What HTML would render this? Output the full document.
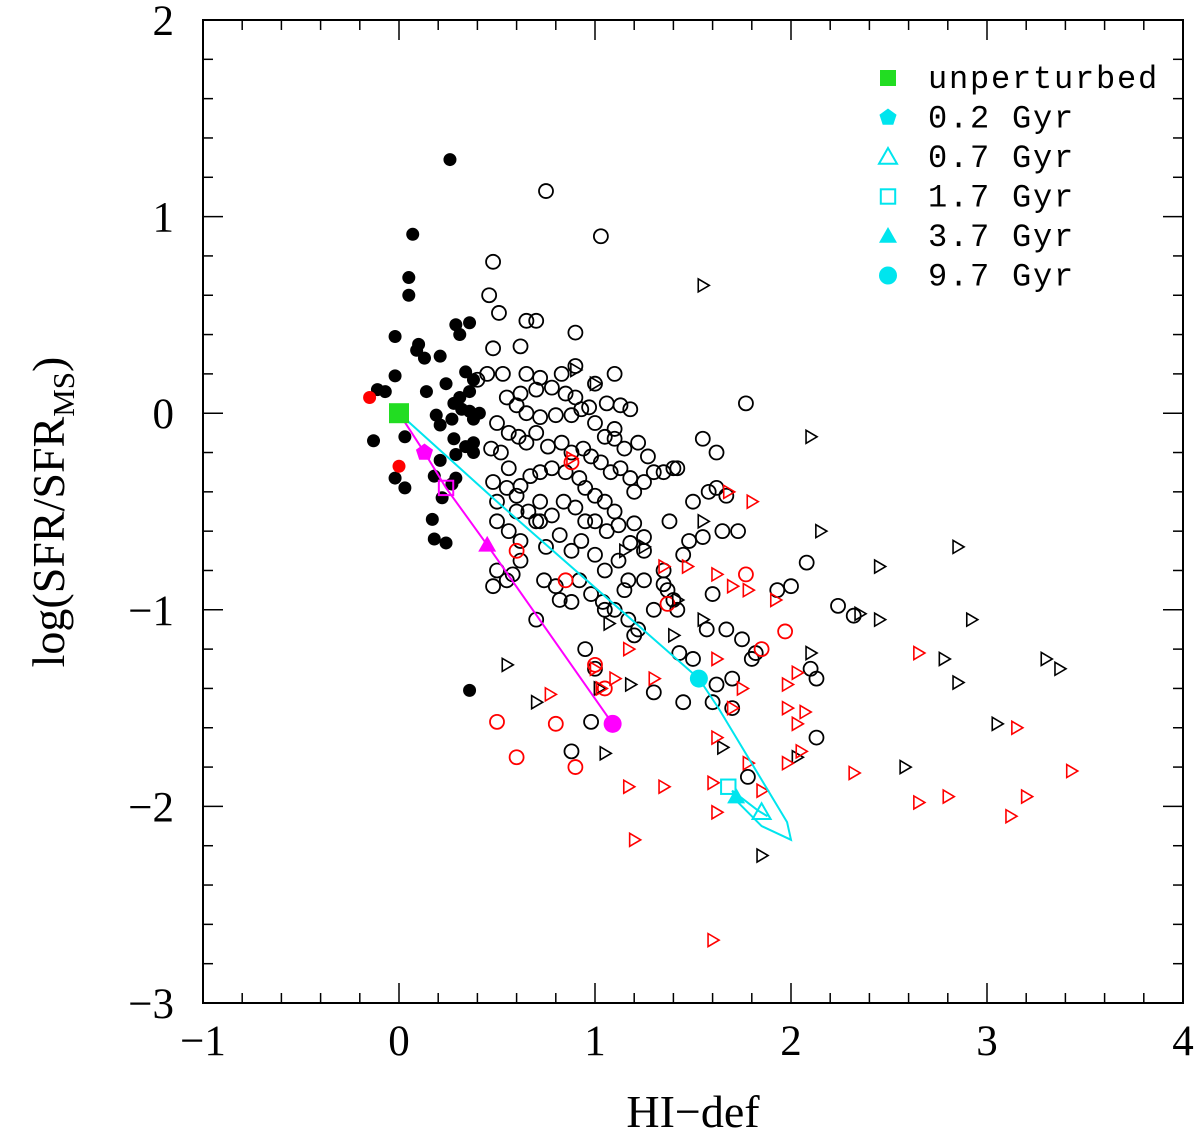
<!DOCTYPE html>
<html><head><meta charset="utf-8"><style>
html,body{margin:0;padding:0;background:#fff}
svg{display:block}
text{font-family:"Liberation Serif",serif;fill:#000}
.leg{font-family:"Liberation Mono",monospace;font-size:32px;letter-spacing:1.8px}
</style></head><body>
<svg id="chart" width="1200" height="1136" viewBox="0 0 1200 1136" xmlns="http://www.w3.org/2000/svg">
<g id="axes"></g>
<g id="marks"></g>
<g id="legend"></g>
<text x="693" y="1127" font-size="46" text-anchor="middle">HI−def</text>
<text transform="translate(64,512) rotate(-90)" font-size="46" text-anchor="middle">log(SFR/SFR<tspan font-size="31" dy="10">MS</tspan><tspan dy="-10">)</tspan></text>
</svg>
<script>
const xTicks=[-1,0,1,2,3,4];
const yTicks=[2,1,0,-1,-2,-3];
const filledBlackX=[0.26,0.07,0.05,0.05,-0.02,0.10,0.09,0.29,0.36,0.31,-0.11,-0.07,-0.02,0.13,0.21,0.24,0.34,0.38,0.31,0.36,0.28,0.32,0.36,0.19,0.21,0.14,0.27,0.38,0.41,0.28,0.34,0.38,0.29,0.21,-0.13,0.03,-0.02,0.18,0.29,0.03,0.17,0.22,0.18,0.24,0.36,0.27,0.38];
const filledBlackY=[1.29,0.91,0.69,0.60,0.39,0.35,0.32,0.45,0.46,0.40,0.12,0.11,0.19,0.28,0.29,0.15,0.21,0.17,0.08,0.11,0.05,0.02,0.01,-0.01,-0.06,0.11,-0.03,-0.03,0,-0.13,-0.17,-0.15,-0.21,-0.24,-0.14,-0.12,-0.33,-0.32,-0.33,-0.38,-0.54,-0.43,-0.64,-0.66,-1.41,-0.36,-0.2];
const filledRedX=[-0.15,0];
const filledRedY=[0.08,-0.27];
const openBlack=[[0.75,1.13],[1.03,0.9],[0.48,0.77],[0.46,0.6],[0.51,0.51],[0.65,0.47],[0.7,0.47],[0.48,0.33],[0.62,0.34],[0.9,0.41],[0.45,0.2],[0.53,0.2],[0.4,0.17],[0.65,0.2],[0.72,0.18],[0.83,0.2],[0.9,0.24],[1.0,0.15],[1.1,0.2],[1.13,0.04],[1.18,0.02],[1.1,-0.08],[1.06,0.05],[0.9,0.08],[0.85,0.1],[0.78,0.13],[0.7,0.12],[0.62,0.1],[0.55,0.08],[0.6,0.04],[0.65,0.0],[0.72,-0.02],[0.8,-0.01],[0.88,-0.01],[0.93,0.02],[0.97,0.03],[1.0,-0.05],[1.05,-0.12],[1.1,-0.13],[1.15,-0.18],[1.22,-0.15],[1.27,-0.22],[0.5,-0.05],[0.56,-0.1],[0.61,-0.12],[0.65,-0.15],[0.7,-0.1],[0.76,-0.17],[0.83,-0.15],[0.88,-0.2],[0.94,-0.18],[0.98,-0.22],[1.03,-0.25],[1.08,-0.3],[1.13,-0.28],[1.18,-0.33],[1.25,-0.35],[1.35,-0.3],[1.42,-0.28],[0.47,-0.18],[0.52,-0.2],[0.56,-0.28],[0.62,-0.37],[0.67,-0.32],[0.72,-0.3],[0.78,-0.28],[0.85,-0.3],[0.92,-0.33],[0.95,-0.38],[1.0,-0.42],[1.05,-0.45],[1.1,-0.5],[0.48,-0.35],[0.5,-0.45],[0.55,-0.38],[0.6,-0.42],[0.66,-0.5],[0.72,-0.45],[0.78,-0.52],[0.84,-0.45],[0.9,-0.48],[0.95,-0.55],[1.0,-0.55],[1.06,-0.6],[1.12,-0.57],[1.2,-0.56],[1.25,-0.63],[0.5,-0.55],[0.56,-0.6],[0.62,-0.65],[0.7,-0.55],[0.75,-0.68],[0.82,-0.62],[0.88,-0.7],[0.93,-0.65],[1.0,-0.72],[1.05,-0.8],[1.12,-0.75],[1.17,-0.85],[0.48,-0.88],[0.5,-0.8],[0.58,-0.82],[0.74,-0.85],[0.8,-0.88],[0.88,-0.96],[0.98,-0.92],[1.04,-0.96],[0.82,-0.95],[0.92,-0.85],[1.1,-1.0],[1.17,-1.05],[1.22,-1.1],[1.2,-1.13],[1.3,-1.0],[1.35,-0.87],[1.37,-0.9],[1.4,-0.95],[1.42,-1.0],[1.43,-1.22],[1.5,-1.25],[1.3,-1.42],[1.45,-1.47],[1.6,-1.47],[1.7,-1.5],[1.62,-1.38],[1.7,-1.35],[1.57,-1.1],[1.67,-1.1],[1.75,-1.15],[1.8,-1.25],[1.82,-1.22],[1.55,-0.63],[1.65,-0.6],[1.73,-0.6],[1.5,-0.45],[1.58,-0.4],[1.62,-0.38],[1.67,-0.42],[1.55,-0.13],[1.62,-0.2],[1.77,0.05],[1.4,-0.28],[1.3,-0.3],[1.93,-0.9],[2.0,-0.88],[2.08,-0.76],[2.24,-0.98],[2.32,-1.03],[2.1,-1.3],[2.13,-1.35],[2.13,-1.65],[1.78,-1.85],[0.98,-1.57],[0.88,-1.72],[1.05,-1.0],[1.0,-1.3],[0.95,-1.2],[0.7,-1.05],[0.72,-0.55],[0.62,-0.75],[0.55,-0.85],[0.6,-0.5],[1.45,-0.72],[1.48,-0.65],[1.35,-0.8],[1.15,-0.9],[1.25,-0.7],[1.25,-0.85],[1.18,-0.66],[1.6,-0.92],[1.2,-0.4],[1.38,-0.55]];
const openRed=[[0.6,-0.7],[0.5,-1.57],[0.6,-1.75],[0.8,-1.58],[0.9,-1.8],[1.0,-1.28],[1.05,-1.4],[1.37,-0.97],[1.77,-0.82],[1.85,-1.2],[1.97,-1.11],[0.85,-0.85],[0.88,-0.25]];
const triBlack=[[1.55,0.65],[0.9,0.22],[1.0,0.15],[2.1,-0.12],[2.15,-0.6],[2.45,-0.78],[2.85,-0.68],[2.92,-1.05],[2.35,-1.02],[2.45,-1.05],[2.1,-1.22],[2.78,-1.25],[2.85,-1.37],[3.3,-1.25],[3.37,-1.3],[3.05,-1.58],[2.58,-1.8],[2.03,-1.75],[1.85,-2.25],[1.65,-1.7],[1.55,-1.05],[1.55,-0.55],[0.55,-1.28],[0.7,-1.47],[1.05,-1.73],[1.02,-1.4],[1.18,-1.38],[1.4,-1.13],[1.25,-0.68],[1.42,-0.95],[1.15,-0.7],[1.07,-1.07]];
const triRed=[[1.8,-0.45],[1.68,-0.4],[0.88,-0.23],[1.35,-0.78],[1.47,-0.78],[1.62,-0.82],[1.78,-0.9],[1.92,-0.95],[1.7,-0.88],[1.17,-1.2],[1.3,-1.35],[1.62,-1.25],[1.75,-1.4],[1.7,-1.5],[1.98,-1.38],[2.03,-1.32],[1.98,-1.5],[2.07,-1.52],[2.03,-1.58],[2.05,-1.72],[1.98,-1.78],[1.62,-1.65],[1.85,-1.92],[1.78,-1.78],[1.6,-1.88],[1.62,-2.03],[1.17,-1.9],[1.35,-1.9],[1.2,-2.17],[1.6,-2.68],[2.32,-1.83],[2.65,-1.22],[2.8,-1.95],[2.65,-1.98],[3.15,-1.6],[3.12,-2.05],[3.2,-1.95],[3.43,-1.82],[0.77,-1.43],[1.0,-1.3],[1.03,-1.4],[1.1,-1.35]];
const cyanTrackX=[0,0.5,1.53,1.63,1.98,2.0,1.85,1.73,1.7,1.83,1.88];
const cyanTrackY=[0,-0.45,-1.35,-1.5,-2.08,-2.17,-2.1,-1.98,-1.92,-2.02,-2.05];
const magentaTrackX=[0,0.13,0.24,0.45,1.09];
const magentaTrackY=[0,-0.2,-0.38,-0.67,-1.58];
const cyanMarkX=[1.53,1.68,1.72,1.85];
const cyanMarkY=[-1.35,-1.9,-1.95,-2.03];
const cyanMarkShape=['circle','osquare','tri','otri'];
const magMarkShape=['square','pent','osquare','tri','circle'];
const legendLabels=['unperturbed','0.2 Gyr','0.7 Gyr','1.7 Gyr','3.7 Gyr','9.7 Gyr'];

const X0=203,X1=1183,Y0=20,Y1=1003;
const sx=v=>X0+(v+1)/5*(X1-X0);
const sy=v=>Y0+(2-v)/5*(Y1-Y0);
const NS='http://www.w3.org/2000/svg';
function mk(tag,attrs,parent){const e=document.createElementNS(NS,tag);for(const k in attrs)e.setAttribute(k,attrs[k]);parent.appendChild(e);return e;}
const axes=document.getElementById('axes'),marks=document.getElementById('marks'),leg=document.getElementById('legend');
const frame=mk('rect',{x:X0,y:Y0,width:X1-X0,height:Y1-Y0,fill:'none',stroke:'#000','stroke-width':2},axes);


for(let i=0;i<=25;i++){const v=-1+i*0.2;const x=sx(v);const L=(i%5===0)?20:10;
 mk('line',{x1:x,y1:Y1,x2:x,y2:Y1-L,stroke:'#000','stroke-width':1.5},axes);
 mk('line',{x1:x,y1:Y0,x2:x,y2:Y0+L,stroke:'#000','stroke-width':1.5},axes);}
for(let i=0;i<=25;i++){const v=-3+i*0.2;const y=sy(v);const L=(i%5===0)?20:10;
 mk('line',{x1:X0,y1:y,x2:X0+L,y2:y,stroke:'#000','stroke-width':1.5},axes);
 mk('line',{x1:X1,y1:y,x2:X1-L,y2:y,stroke:'#000','stroke-width':1.5},axes);}
xTicks.forEach(v=>{const t=mk('text',{x:sx(v),y:1055,'font-size':43,'text-anchor':'middle'},axes);t.textContent=v<0?'−'+(-v):String(v);
 
 });
yTicks.forEach(v=>{const t=mk('text',{x:174,y:sy(v)+15,'font-size':43,'text-anchor':'end'},axes);t.textContent=v<0?'−'+(-v):String(v);
 
 });

function circle(x,y,r,fill,stroke,name){const e=mk('circle',{cx:x,cy:y,r:r,fill:fill,stroke:stroke,'stroke-width':1.8},marks);
 
 return e;}
function tri(x,y,stroke,name){const s=6.5;const e=mk('polygon',{points:`${x-s*0.7},${y-s} ${x-s*0.7},${y+s} ${x+s*1.0},${y}`,fill:'none',stroke:stroke,'stroke-width':1.6},marks);
 
 }
function shape(kind,x,y,col,g,s){let e;s=s||9;
 if(kind==='circle')e=mk('circle',{cx:x,cy:y,r:s,fill:col},g);
 else if(kind==='square')e=mk('rect',{x:x-s,y:y-s,width:2*s,height:2*s,fill:col},g);
 else if(kind==='osquare')e=mk('rect',{x:x-s*0.8,y:y-s*0.8,width:1.6*s,height:1.6*s,fill:'none',stroke:col,'stroke-width':2},g);
 else if(kind==='tri')e=mk('polygon',{points:`${x},${y-s} ${x-s},${y+s*0.75} ${x+s},${y+s*0.75}`,fill:col},g);
 else if(kind==='otri')e=mk('polygon',{points:`${x},${y-s} ${x-s},${y+s*0.75} ${x+s},${y+s*0.75}`,fill:'none',stroke:col,'stroke-width':2},g);
 else if(kind==='pent'){let p=[];for(let i=0;i<5;i++){const a=-Math.PI/2+i*2*Math.PI/5;p.push((x+s*Math.cos(a))+','+(y+s*Math.sin(a)));}e=mk('polygon',{points:p.join(' '),fill:col},g);}
 return e;}

openBlack.forEach(p=>circle(sx(p[0]),sy(p[1]),7,'none','#000','open-black-point'));
openRed.forEach(p=>circle(sx(p[0]),sy(p[1]),7,'none','#f00','open-red-point'));
triBlack.forEach(p=>tri(sx(p[0]),sy(p[1]),'#000','black-triangle-point'));
triRed.forEach(p=>tri(sx(p[0]),sy(p[1]),'#f00','red-triangle-point'));
filledBlackX.forEach((v,i)=>circle(sx(v),sy(filledBlackY[i]),6.5,'#000','none','filled-black-point'));
filledRedX.forEach((v,i)=>circle(sx(v),sy(filledRedY[i]),6.5,'#f00','none','filled-red-point'));

const cl=mk('polyline',{points:cyanTrackX.map((v,i)=>sx(v)+','+sy(cyanTrackY[i])).join(' '),fill:'none',stroke:'#00e5ee','stroke-width':2},marks);


const ml=mk('polyline',{points:magentaTrackX.map((v,i)=>sx(v)+','+sy(magentaTrackY[i])).join(' '),fill:'none',stroke:'#f0f','stroke-width':2},marks);


cyanMarkX.forEach((v,i)=>{const e=shape(cyanMarkShape[i],sx(v),sy(cyanMarkY[i]),'#00e5ee',marks);
 
 });
magentaTrackX.forEach((v,i)=>{if(i===0)return;const e=shape(magMarkShape[i],sx(v),sy(magentaTrackY[i]),'#f0f',marks);
 
 });
const gs=shape('square',sx(0),sy(0),'#22dd22',marks,10);



const legShapes=['square','pent','otri','osquare','tri','circle'];
legendLabels.forEach((lab,i)=>{const y=78+i*39.5;const col=i===0?'#22dd22':'#00e5ee';
 const e=shape(legShapes[i],888,y,col,leg,i===0?8:9);
 
 
 const t=mk('text',{x:928,y:y+10,class:'leg'},leg);t.textContent=lab;
 
 });
</script>
</body></html>
